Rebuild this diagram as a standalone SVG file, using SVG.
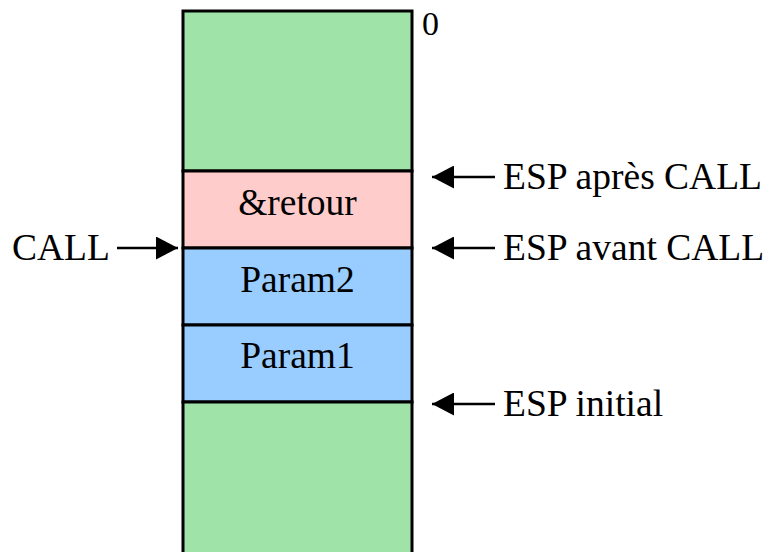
<svg xmlns="http://www.w3.org/2000/svg" width="768" height="552" viewBox="0 0 768 552">
<style>
.cell{stroke:#000;stroke-width:3}
.g{fill:#9FE3A9}.p{fill:#FFCCCC}.b{fill:#99CCFF}
text{font-family:"Liberation Serif","Times New Roman",serif;font-size:37.5px;fill:#000}
.c{text-anchor:middle}
.conn line{stroke:#000;stroke-width:2.5}
</style>
<defs>
<marker id="ah" viewBox="0 0 22 23" refX="22" refY="11.5" markerWidth="22" markerHeight="23" markerUnits="userSpaceOnUse" orient="auto">
<path d="M0,0 L22,11.5 L0,23 z" fill="#000"/>
</marker>
</defs>
<g id="top-free"><rect class="cell g" x="183" y="11" width="229" height="160"/></g>
<g id="retour"><rect class="cell p" x="183" y="171" width="229" height="77"/><text class="c" x="297.5" y="215">&amp;retour</text></g>
<g id="param2"><rect class="cell b" x="183" y="248" width="229" height="77"/><text class="c" x="297.5" y="292">Param2</text></g>
<g id="param1"><rect class="cell b" x="183" y="325" width="229" height="77"/><text class="c" x="297.5" y="368">Param1</text></g>
<g id="bottom-used"><rect class="cell g" x="183" y="402" width="229" height="160"/></g>
<g id="zero"><text x="422" y="35" style="font-size:34px">0</text></g>
<g id="lbl-apres"><text x="503" y="189">ESP après CALL</text></g>
<g id="lbl-avant"><text x="503" y="260">ESP avant CALL</text></g>
<g id="lbl-initial"><text x="503" y="416">ESP initial</text></g>
<g id="lbl-call"><text x="12" y="260">CALL</text></g>
<g class="conn" id="connectors">
<line x1="495" y1="177" x2="432" y2="177" marker-end="url(#ah)"/>
<line x1="495" y1="248" x2="432" y2="248" marker-end="url(#ah)"/>
<line x1="495" y1="404" x2="432" y2="404" marker-end="url(#ah)"/>
<line x1="117" y1="248" x2="178" y2="248" marker-end="url(#ah)"/>
</g>
</svg>
